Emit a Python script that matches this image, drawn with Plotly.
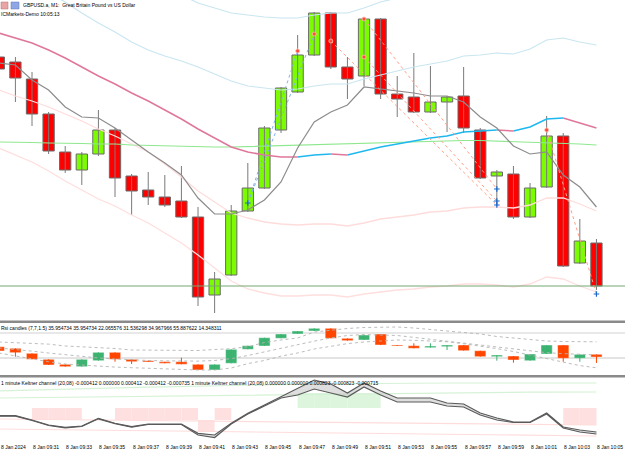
import plotly.graph_objects as go

W, H = 625, 453

# ---------------- data ----------------
idx = list(range(37))  # bars 09:29 ... 10:05
tick_idx = list(range(0, 37, 2))
tick_labels = ["8 Jan 2024", "8 Jan 09:31", "8 Jan 09:33", "8 Jan 09:35", "8 Jan 09:37",
               "8 Jan 09:39", "8 Jan 09:41", "8 Jan 09:43", "8 Jan 09:45", "8 Jan 09:47",
               "8 Jan 09:49", "8 Jan 09:51", "8 Jan 09:53", "8 Jan 09:55", "8 Jan 09:57",
               "8 Jan 09:59", "8 Jan 10:01", "8 Jan 10:03", "8 Jan 10:05"]

open_ = [1.27343, 1.27338, 1.27321, 1.27286, 1.27248, 1.27230, 1.27246, 1.27270, 1.27224, 1.27210,
         1.27203, 1.27199, 1.27183, 1.27105, 1.27125, 1.27189, 1.27212, 1.27270, 1.27308, 1.27345,
         1.27387, 1.27333, 1.27324, 1.27381, 1.27306, 1.27303, 1.27288, 1.27298, 1.27304, 1.27270,
         1.27224, 1.27226, 1.27183, 1.27213, 1.27264, 1.27137, 1.27157]
high = [1.27345, 1.27343, 1.27328, 1.27288, 1.27254, 1.27248, 1.27290, 1.27272, 1.27226, 1.27228,
        1.27225, 1.27234, 1.27193, 1.27128, 1.27195, 1.27237, 1.27274, 1.27313, 1.27365, 1.27388,
        1.27388, 1.27343, 1.27382, 1.27382, 1.27324, 1.27347, 1.27334, 1.27304, 1.27333, 1.27272,
        1.27230, 1.27234, 1.27217, 1.27284, 1.27267, 1.27181, 1.27161]
low = [1.27330, 1.27298, 1.27274, 1.27246, 1.27227, 1.27215, 1.27244, 1.27203, 1.27185, 1.27195,
       1.27193, 1.27182, 1.27094, 1.27087, 1.27124, 1.27188, 1.27211, 1.27267, 1.27307, 1.27344,
       1.27331, 1.27301, 1.27314, 1.27301, 1.27283, 1.27287, 1.27287, 1.27268, 1.27267, 1.27221,
       1.27194, 1.27181, 1.27182, 1.27212, 1.27133, 1.27136, 1.27110]
close = [1.27331, 1.27322, 1.27286, 1.27249, 1.27230, 1.27246, 1.27270, 1.27222, 1.27209, 1.27203,
         1.27195, 1.27183, 1.27103, 1.27121, 1.27189, 1.27212, 1.27272, 1.27312, 1.27345, 1.27387,
         1.27333, 1.27321, 1.27381, 1.27306, 1.27301, 1.27288, 1.27298, 1.27303, 1.27272, 1.27222,
         1.27228, 1.27183, 1.27212, 1.27264, 1.27134, 1.27159, 1.27114]

ma_fast = [1.27337, 1.27335, 1.27320, 1.27310, 1.27293, 1.27283, 1.27282, 1.27272, 1.27260, 1.27248,
           1.27237, 1.27225, 1.27202, 1.27186, 1.27186, 1.27190, 1.27200, 1.27218, 1.27252, 1.27278,
           1.27288, 1.27295, 1.27313, 1.27311, 1.27309, 1.27307, 1.27304, 1.27304, 1.27298, 1.27283,
           1.27272, 1.27254, 1.27246, 1.27248, 1.27225, 1.27213, 1.27193]
ma_slow = [1.27367, 1.27362, 1.27357, 1.27350, 1.27342, 1.27333, 1.27324, 1.27316, 1.27307, 1.27299,
           1.27290, 1.27281, 1.27271, 1.27262, 1.27253, 1.27248, 1.27245, 1.27243, 1.27243, 1.27245,
           1.27246, 1.27245, 1.27249, 1.27253, 1.27256, 1.27259, 1.27262, 1.27264, 1.27268, 1.27269,
           1.27270, 1.27269, 1.27273, 1.27281, 1.27282, 1.27277, 1.27272]
band_w1 = [0.00057, 0.00058, 0.00058, 0.00057, 0.00056, 0.00054, 0.00053, 0.00052, 0.00051, 0.00051,
           0.00054, 0.00058, 0.00062, 0.00064, 0.00066, 0.00066, 0.00067, 0.00067, 0.00068, 0.00069,
           0.00070, 0.00071, 0.00072, 0.00072, 0.00073, 0.00074, 0.00074, 0.00075, 0.00076, 0.00076,
           0.00077, 0.00077, 0.00078, 0.00079, 0.00080, 0.00081, 0.00083]
band_w2 = [0.00115, 0.00117, 0.00119, 0.00121, 0.00123, 0.00123, 0.00123, 0.00122, 0.00122, 0.00122,
           0.00123, 0.00124, 0.00126, 0.00130, 0.00134, 0.00137, 0.00138, 0.00139, 0.00139, 0.00140,
           0.00141, 0.00142, 0.00143, 0.00145, 0.00146, 0.00148, 0.00149, 0.00150, 0.00152, 0.00153,
           0.00155, 0.00156, 0.00157, 0.00158, 0.00161, 0.00163, 0.00164]
ma_long = [1.27258, 1.27258, 1.272575, 1.27257, 1.27257, 1.272565, 1.27256, 1.27256, 1.27255, 1.272545,
           1.27254, 1.272535, 1.27253, 1.27253, 1.27253, 1.272535, 1.27254, 1.272545, 1.27255, 1.272555,
           1.272555, 1.27256, 1.272565, 1.27257, 1.272575, 1.27258, 1.272585, 1.27259, 1.272595, 1.272595,
           1.27259, 1.272585, 1.27258, 1.272575, 1.272565, 1.27256, 1.27255]

sig_red_x = [18, 19, 20, 22, 22, 33]
sig_red_y = [1.27349, 1.27366, 1.27359, 1.27381, 1.27343, 1.27270]
sig_blue_x = [15, 30, 30, 30, 36]
sig_blue_y = [1.27197, 1.27211, 1.27199, 1.27195, 1.27106]
blue_links = [((15, 1.27197), (18, 1.27349)), ((15, 1.27197), (19, 1.27366))]
red_links = [((20, 1.27359), (30, 1.27195)), ((22, 1.27381), (30, 1.27211)),
             ((22, 1.27343), (30, 1.27199)), ((33, 1.27270), (36, 1.27106))]

rsi_open = [48.1, 45.5, 37.5, 27.9, 19.9, 16.1, 25.7, 39.1, 27.9, 25.7, 24.1, 24.1, 19.9, 10.8, 21.5,
            43.9, 49.2, 61.5, 68.4, 73.2, 77.5, 61.5, 58.8, 68.4, 50.8, 49.7, 46.5, 48.1, 50.8, 41.7,
            32.1, 33.2, 25.7, 36.4, 50.8, 29.5, 35.954734]
rsi_high = [48.1, 45.5, 37.5, 27.9, 19.9, 27.9, 39.1, 39.1, 27.9, 25.7, 24.1, 30.5, 19.9, 19.9, 43.9,
            49.7, 62.5, 68.4, 73.2, 77.5, 77.5, 61.5, 66.8, 68.4, 50.8, 53.5, 53.5, 50.8, 50.8, 41.7,
            34.8, 33.2, 36.4, 50.8, 50.8, 35.9, 35.954734]
rsi_low = [41.2, 32.1, 27.9, 18.8, 16.1, 16.1, 25.7, 24.1, 20.4, 23.6, 21.5, 19.9, 10.8, 10.8, 21.5,
           43.9, 49.2, 61.5, 68.4, 73.2, 61.5, 57.7, 58.8, 50.8, 49.2, 45.5, 46.5, 42.8, 41.7, 32.1,
           25.7, 22.5, 25.7, 36.4, 24.1, 24.1, 22.065576]
rsi_close = [41.2, 38.5, 27.9, 18.8, 16.1, 27.9, 39.1, 27.9, 24.1, 23.6, 21.5, 19.9, 10.8, 19.9, 43.9,
             49.7, 62.5, 68.4, 73.2, 77.5, 61.5, 57.7, 66.8, 50.8, 49.2, 45.5, 49.2, 50.8, 41.7, 32.1,
             34.8, 26.8, 36.4, 50.8, 29.5, 35.9, 31.536298]
rsi_up = [55.6, 54.8, 53.6, 52.2, 49.2, 48.1, 46.6, 45.2, 42.8, 42.4, 41.6, 41.2, 42.0, 43.6, 44.9,
          48.0, 54.8, 58.8, 62.0, 71.6, 74.8, 77.2, 78.8, 79.6, 79.6, 78.0, 75.6, 73.2, 70.8, 68.4,
          64.4, 62.0, 59.6, 57.2, 56.4, 55.6, 55.887622]
rsi_mid = [46.0, 44.0, 41.0, 38.0, 35.0, 32.0, 30.0, 28.5, 27.0, 26.0, 25.5, 25.0, 25.0, 26.0, 29.0,
           34.0, 40.0, 46.0, 51.5, 57.0, 62.0, 66.0, 67.5, 67.0, 66.0, 63.0, 60.0, 57.0, 54.0, 51.0,
           47.5, 44.0, 41.0, 38.5, 37.0, 36.0, 34.967966]
rsi_dn = [38.0, 33.0, 28.0, 24.0, 20.4, 18.4, 16.8, 15.5, 14.5, 13.5, 12.5, 11.5, 10.8, 10.8, 14.0,
          21.0, 26.0, 33.0, 38.0, 44.4, 49.0, 53.0, 55.6, 57.2, 58.8, 58.3, 57.0, 56.0, 52.8, 49.2,
          45.0, 40.4, 35.0, 28.4, 23.0, 17.8, 14.348311]
rsi_levels = [30, 70]

kel1 = [-0.000264, -0.000264, -0.000412, -0.000584, -0.000663, -0.000618, -0.000354, -0.000525, -0.000642,
        -0.000549, -0.000549, -0.000549, -0.000869, -0.000927, -0.000525, -0.000182, 0.000103, 0.000388,
        0.000676, 0.000961, 0.000824, 0.000515, 0.000858, 0.000584, 0.000343, 0.000343, 0.000343, 0.000172,
        0.000137, -0.000172, -0.000343, -0.000481, -0.000481, -0.000172, -0.000652, -0.000755, -0.000824]
kel2 = [-0.000281, -0.000281, -0.000429, -0.000601, -0.000680, -0.000635, -0.000371, -0.000542, -0.000659,
        -0.000566, -0.000566, -0.000566, -0.000927, -0.001013, -0.000549, -0.000206, 0.000069, 0.000343,
        0.000446, 0.000652, 0.000515, 0.000378, 0.000721, 0.000446, 0.000206, 0.000206, 0.000206, 0.000069,
        0.000034, -0.000240, -0.000412, -0.000498, -0.000498, -0.000206, -0.000687, -0.000824, -0.000893]
kel_up2 = [0.000584, 0.000601, 0.000618, 0.000635, 0.000652, 0.000663, 0.000676, 0.000687, 0.000700,
           0.000714, 0.000728, 0.000742, 0.000755, 0.000769, 0.000779, 0.000790, 0.000800, 0.000810,
           0.000817, 0.000824, 0.000831, 0.000838, 0.000841, 0.000845, 0.000848, 0.000851, 0.000855,
           0.000858, 0.000858, 0.000858, 0.000858, 0.000858, 0.000858, 0.000858, 0.000858, 0.000858, 0.000858]
kel_up1 = [0.000343, 0.000350, 0.000357, 0.000364, 0.000371, 0.000378, 0.000385, 0.000392, 0.000399,
           0.000406, 0.000413, 0.000420, 0.000427, 0.000434, 0.000441, 0.000448, 0.000455, 0.000462,
           0.000469, 0.000476, 0.000483, 0.000490, 0.000497, 0.000504, 0.000510, 0.000515, 0.000520,
           0.000525, 0.000530, 0.000534, 0.000538, 0.000541, 0.000544, 0.000546, 0.000548, 0.000549, 0.000549]
kel_dn1 = [-0.000378, -0.000384, -0.000390, -0.000396, -0.000402, -0.000408, -0.000414, -0.000420, -0.000426,
           -0.000432, -0.000438, -0.000444, -0.000450, -0.000456, -0.000462, -0.000468, -0.000474, -0.000480,
           -0.000486, -0.000492, -0.000498, -0.000504, -0.000510, -0.000516, -0.000522, -0.000528, -0.000534,
           -0.000540, -0.000546, -0.000552, -0.000558, -0.000564, -0.000570, -0.000574, -0.000578, -0.000581, -0.000584]
kel_dn2 = [-0.000721, -0.000728, -0.000735, -0.000742, -0.000749, -0.000756, -0.000763, -0.000770, -0.000777,
           -0.000784, -0.000791, -0.000798, -0.000805, -0.000812, -0.000819, -0.000826, -0.000833, -0.000840,
           -0.000847, -0.000854, -0.000861, -0.000868, -0.000875, -0.000882, -0.000889, -0.000896, -0.000903,
           -0.000910, -0.000917, -0.000924, -0.000931, -0.000938, -0.000944, -0.000950, -0.000955, -0.000958, -0.000961]
N = None
fill_hi = [N, N, 0, 0, 0, N, N, 0, 0, 0, 0, 0, -0.000412, 0, N, N, N, N, 0.000515, 0.000515, 0.000515,
           0.000515, 0.000515, N, N, N, N, N, N, N, N, N, N, N, 0, 0, N]
fill_lo = [N, N, -0.000412, -0.000412, -0.000412, N, N, -0.000412, -0.000412, -0.000412, -0.000412,
           -0.000412, -0.000824, -0.000412, N, N, N, N, 0, 0, 0, 0, 0, N, N, N, N, N, N, N, N, N, N, N,
           -0.000584, -0.000584, N]

title_main = "GBPUSD.a, M1:\u00a0 Great Britain Pound vs US Dollar"
title_srv = "ICMarkets-Demo 10:05:13"
title_rsi = ("Rsi candles (7,7,1.5) 35.954734 35.954734 22.065576 31.536298 34.967966 "
             "55.887622 14.348311")
title_kel = ("1 minute Keltner channel (20,08) -0.000412 0.000000 0.000412 -0.000412 -0.000735 "
             "1 minute Keltner channel (20,08) 0.000000 0.000000 0.000823 -0.000823 -0.000715")

# ---------------- figure ----------------
FONT = "Liberation Sans"
fig = go.Figure()


def wicks(lo, hi):
    xs, ys = [], []
    for i in idx:
        xs += [i, i, None]
        ys += [lo[i], hi[i], None]
    return xs, ys


def add_line(x, y, color, width, ax, dash="solid", fill=None, fillcolor=None):
    fig.add_trace(go.Scatter(x=x, y=y, mode="lines", line=dict(color=color, width=width, dash=dash),
                             xaxis=ax[0], yaxis=ax[1], hoverinfo="skip", fill=fill,
                             fillcolor=fillcolor))


MAIN = ("x", "y")
RSI = ("x2", "y2")
KEL = ("x3", "y3")

# main candles
wx, wy = wicks(low, high)
add_line(wx, wy, "#7a7a7a", 1, MAIN)
fig.add_trace(go.Bar(
    x=idx, y=[abs(c - o) for o, c in zip(open_, close)], base=[min(o, c) for o, c in zip(open_, close)],
    width=0.68, xaxis="x", yaxis="y", hoverinfo="skip",
    marker=dict(color=["#7cfc00" if c >= o else "#ff0000" for o, c in zip(open_, close)],
                line=dict(color="#6a6a6a", width=1))))

# envelope bands around the slow MA
add_line(idx, [m - w for m, w in zip(ma_slow, band_w2)], "#ffdede", 1.3, MAIN)
add_line(idx, [m - w for m, w in zip(ma_slow, band_w1)], "#ffdcdc", 1.3, MAIN)
add_line(idx, [m + w for m, w in zip(ma_slow, band_w1)], "#c9e6f0", 1.2, MAIN)
add_line(idx, [m + w for m, w in zip(ma_slow, band_w2)], "#c9e6f0", 1.2, MAIN)
add_line(idx, ma_long, "#8fe88f", 1.2, MAIN)

# slow MA coloured by slope
seg_x, seg_y, seg_c = [idx[0]], [ma_slow[0]], None
for i in range(1, len(idx)):
    c = "#1eb8ef" if ma_slow[i] > ma_slow[i - 1] else "#e0779a"
    if seg_c is not None and c != seg_c:
        add_line(seg_x, seg_y, seg_c, 1.5, MAIN)
        seg_x, seg_y = [idx[i - 1]], [ma_slow[i - 1]]
    seg_c = c
    seg_x.append(idx[i])
    seg_y.append(ma_slow[i])
add_line(seg_x, seg_y, seg_c, 1.5, MAIN)

add_line(idx, ma_fast, "#8c8c8c", 1.2, MAIN)

for (a, b) in blue_links:
    add_line([a[0], b[0]], [a[1], b[1]], "#7fb2f2", 1, MAIN, dash="dot")
for (a, b) in red_links:
    add_line([a[0], b[0]], [a[1], b[1]], "#ffa08a", 1, MAIN, dash="dot")
fig.add_trace(go.Scatter(x=sig_red_x, y=sig_red_y, mode="markers", xaxis="x", yaxis="y", hoverinfo="skip",
                         marker=dict(symbol="circle", size=4, color="#ff4a3a",
                                     line=dict(color="#ffc0b0", width=0.8))))
fig.add_trace(go.Scatter(x=sig_blue_x, y=sig_blue_y, mode="markers", xaxis="x", yaxis="y", hoverinfo="skip",
                         marker=dict(symbol="cross-thin", size=4, color="#1a66c8",
                                     line=dict(color="#1a66c8", width=1.2))))

# RSI candles
rcol = ["#3cb371" if c >= o else "#ff4500" for o, c in zip(rsi_open, rsi_close)]
for i in idx:
    fig.add_trace(go.Scatter(x=[i, i], y=[rsi_low[i], rsi_high[i]], mode="lines",
                             line=dict(color=rcol[i], width=1), xaxis="x2", yaxis="y2", hoverinfo="skip"))
fig.add_trace(go.Bar(
    x=idx, y=[abs(c - o) for o, c in zip(rsi_open, rsi_close)],
    base=[min(o, c) for o, c in zip(rsi_open, rsi_close)],
    width=0.68, xaxis="x2", yaxis="y2", hoverinfo="skip",
    marker=dict(color=rcol, line=dict(color="rgba(255,255,255,0.45)", width=1))))
add_line(idx, rsi_up, "#b4b4b4", 0.9, RSI, dash="dot")
add_line(idx, rsi_mid, "#b4b4b4", 0.9, RSI, dash="dot")
add_line(idx, rsi_dn, "#b4b4b4", 0.9, RSI, dash="dot")

# Keltner pane
fx = [i for i in idx if fill_hi[i] is not None]
fig.add_trace(go.Bar(
    x=fx, y=[fill_hi[i] - fill_lo[i] for i in fx], base=[fill_lo[i] for i in fx],
    width=1, offset=0, xaxis="x3", yaxis="y3", hoverinfo="skip",
    marker=dict(color=["#dcf5dc" if fill_hi[i] > 0 else "#ffe0e0" for i in fx], line=dict(width=0))))
add_line(idx, kel_up2, "#d6f2d6", 1.2, KEL)
add_line(idx, kel_up1, "#d6f2d6", 1.2, KEL)
add_line(idx, kel_dn1, "#ffdcdc", 1.2, KEL)
add_line(idx, kel_dn2, "#ffdcdc", 1.2, KEL)
add_line(idx, kel2, "#5a5a5a", 1.2, KEL)
add_line(idx, kel1, "#5a5a5a", 1.2, KEL, fill="tonexty", fillcolor="rgba(200,200,200,0.6)")


def pyp(px):
    return 1 - px / H


XR = [0.072, 37.72]
ax_common = dict(range=XR, visible=False, fixedrange=True)
layout = dict(
    width=W, height=H, margin=dict(l=0, r=0, t=0, b=0),
    paper_bgcolor="white", plot_bgcolor="white", showlegend=False, barmode="overlay",
    xaxis=dict(domain=[0, 1], anchor="y", **ax_common),
    xaxis2=dict(domain=[0, 1], anchor="y2", **ax_common),
    xaxis3=dict(domain=[0, 1], anchor="y3", **ax_common),
    yaxis=dict(domain=[pyp(320), 1], range=[1.2708, 1.2740], visible=False),
    yaxis2=dict(domain=[pyp(375), pyp(323)], range=[2.8, 86], visible=False),
    yaxis3=dict(domain=[pyp(441), pyp(377.5)], range=[-0.0011329, 0.0010471], visible=False),
)
fig.update_layout(**layout)

shapes = [
    dict(type="rect", xref="paper", yref="paper", x0=0, x1=1, y0=pyp(323), y1=pyp(320.5),
         fillcolor="#8a8a8a", line=dict(width=0)),
    dict(type="rect", xref="paper", yref="paper", x0=0, x1=1, y0=pyp(377.5), y1=pyp(375),
         fillcolor="#8a8a8a", line=dict(width=0)),
    dict(type="line", xref="paper", yref="y2", x0=0, x1=1, y0=rsi_levels[0], y1=rsi_levels[0],
         line=dict(color="#c8c8c8", width=1), layer="below"),
    dict(type="line", xref="paper", yref="y2", x0=0, x1=1, y0=rsi_levels[1], y1=rsi_levels[1],
         line=dict(color="#e8e8e8", width=2), layer="below"),
    dict(type="line", xref="paper", yref="y", x0=0, x1=1, y0=close[-1], y1=close[-1],
         line=dict(color="#74a874", width=1)),
    dict(type="rect", xref="paper", yref="paper", x0=1 / W, x1=8 / W, y0=pyp(9), y1=pyp(2),
         fillcolor="#e9a5a5", line=dict(color="#b07070", width=0.5)),
    dict(type="rect", xref="paper", yref="paper", x0=11 / W, x1=19 / W, y0=pyp(9), y1=pyp(2),
         fillcolor="#8fa6e6", line=dict(color="#6070b0", width=0.5)),
]
fig.update_layout(shapes=shapes)

ann = []
tf = dict(family=FONT, size=5, color="black")
ann.append(dict(x=22 / W, y=pyp(5), text=title_main))
ann.append(dict(x=0, y=pyp(14), text=title_srv))
ann.append(dict(x=0, y=pyp(328), text=title_rsi))
ann.append(dict(x=0, y=pyp(383), text=title_kel))
for a in ann:
    a.update(xref="paper", yref="paper", xanchor="left", yanchor="middle", showarrow=False, font=tf,
             borderpad=0)
for i, lab in zip(tick_idx, tick_labels):
    if i == 0:
        # the first (date) label sits at the very left edge of the window
        ann.append(dict(x=0, xref="paper", y=pyp(447), yref="paper", text=lab, xanchor="left",
                        yanchor="middle", showarrow=False, font=tf, borderpad=0))
    else:
        ann.append(dict(x=i, xref="x3", y=pyp(447), yref="paper", text=lab, xanchor="left",
                        yanchor="middle", showarrow=False, font=tf, borderpad=0))
fig.update_layout(annotations=ann)

fig.write_html("out.html")
